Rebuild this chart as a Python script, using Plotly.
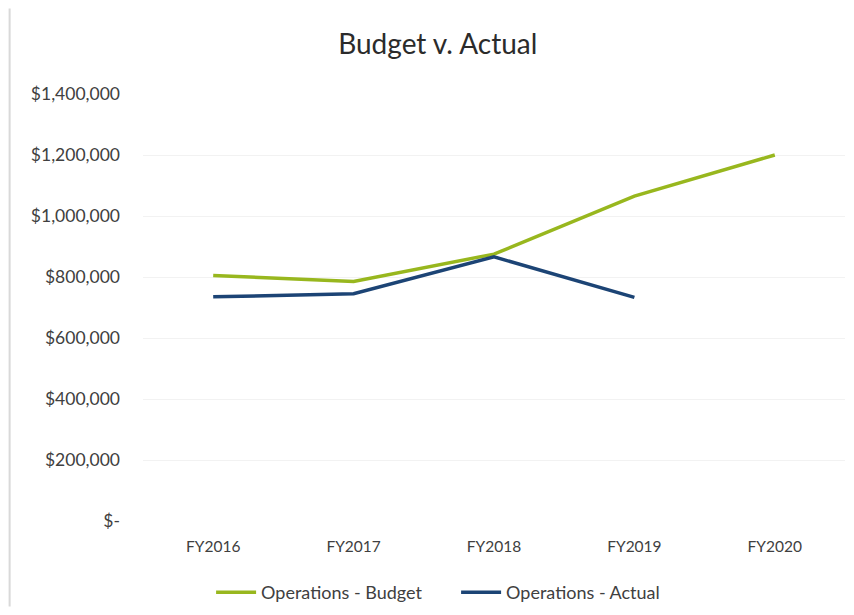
import plotly.graph_objects as go

categories = ["FY2016", "FY2017", "FY2018", "FY2019", "FY2020"]
budget = [805000, 785000, 875000, 1065000, 1200000]
actual = [735000, 745000, 866000, 733000, None]
y_tick_vals = [0, 200000, 400000, 600000, 800000, 1000000, 1200000, 1400000]
y_tick_text = ["$-", "$200,000", "$400,000", "$600,000", "$800,000",
               "$1,000,000", "$1,200,000", "$1,400,000"]

font_family = "Lato, 'Open Sans', sans-serif"

fig = go.Figure()
fig.add_trace(go.Scatter(x=categories, y=budget, mode="lines",
                         name="Operations - Budget",
                         line=dict(color="#98B71E", width=3.5)))
fig.add_trace(go.Scatter(x=categories, y=actual, mode="lines",
                         name="Operations - Actual",
                         line=dict(color="#1C4475", width=3.5)))

fig.update_layout(
    width=846, height=607,
    paper_bgcolor="white", plot_bgcolor="white",
    margin=dict(l=135, r=9, t=86, b=94, autoexpand=False),
    title=dict(text="Budget v. Actual", x=0.508, xanchor="center",
               y=0.94, yanchor="middle",
               font=dict(family=font_family, size=28, color="#2b2b2b")),
    font=dict(family=font_family, size=15, color="#404040"),
    showlegend=True,
    legend=dict(orientation="h", x=0.446, xanchor="center", y=-0.124,
                yanchor="top", font=dict(size=18, color="#404040"),
                itemwidth=40, tracegroupgap=0,
                entrywidth=190, entrywidthmode="pixels"),
)
fig.update_xaxes(type="category", range=[-0.5, 4.5], showgrid=False,
                 showline=False, zeroline=False, ticks="",
                 ticklabelstandoff=14,
                 tickfont=dict(size=15.5, color="#404040"))
fig.update_yaxes(range=[0, 1400000], tickvals=y_tick_vals, ticktext=y_tick_text,
                 showgrid=True, gridcolor="#f2f2f2", gridwidth=1,
                 zeroline=False, showline=False, ticks="",
                 ticklabelstandoff=22,
                 tickfont=dict(size=17.5, color="#404040"))

# faint scan border at left
fig.add_shape(type="line", xref="paper", yref="paper",
              x0=-0.19, x1=-0.19, y0=-0.2, y1=1.2,
              line=dict(color="#d9d9d9", width=2))

fig.write_html("out.html")
